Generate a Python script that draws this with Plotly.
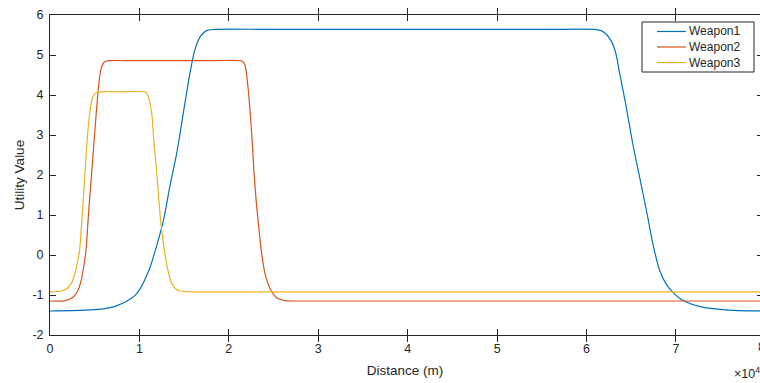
import plotly.graph_objects as go

# ---- data (distance in metres, utility values) ----
d1 = [0, 3900, 6150, 7200, 8000, 8900, 9500, 10100, 10600, 11200, 11900, 12700,
      13400, 14200, 14900, 15650, 16200, 16800, 17500, 18450, 25000, 55000, 60700,
      61400, 61800, 62200, 62600, 63000, 63300, 63700, 64400, 65200, 66000, 66800,
      67400, 68200, 69000, 69700, 70400, 71200, 72700, 74900, 77000, 80000]
u1 = [-1.40, -1.38, -1.34, -1.29, -1.22, -1.11, -1.01, -0.84, -0.62, -0.30, 0.21, 0.88,
      1.71, 2.58, 3.54, 4.54, 5.13, 5.46, 5.61, 5.64, 5.64, 5.64, 5.64,
      5.62, 5.59, 5.52, 5.41, 5.24, 5.02, 4.55, 3.75, 2.75, 1.88, 1.00,
      0.30, -0.40, -0.76, -0.94, -1.08, -1.18, -1.29, -1.36, -1.39, -1.40]

d2 = [0, 1700, 2600, 3100, 3500, 3780, 4000, 4300, 4660, 5000, 5300, 5550, 5800,
      6050, 6300, 6600, 10000, 18000, 21250, 21550, 21800, 22170, 22550, 22900,
      23300, 23670, 24040, 24600, 25350, 26300, 28000, 32000, 80000]
u2 = [-1.15, -1.14, -1.05, -0.90, -0.62, -0.28, 0.05, 1.00, 2.05, 3.05, 3.90, 4.45,
      4.72, 4.82, 4.85, 4.86, 4.86, 4.86, 4.86, 4.84, 4.75, 4.13, 3.04, 1.79,
      0.79, 0.04, -0.46, -0.83, -1.07, -1.14, -1.15, -1.15, -1.15]

d3 = [0, 1300, 2000, 2450, 2800, 3050, 3300, 3600, 3900, 4200, 4500, 4750, 5000,
      5300, 5600, 8000, 10600, 10800, 10990, 11370, 11630, 11960, 12360, 12580,
      12970, 13470, 13980, 14540, 15650, 20000, 80000]
u3 = [-0.92, -0.90, -0.82, -0.68, -0.45, -0.20, 0.10, 1.00, 2.00, 3.00, 3.65, 3.93,
      4.03, 4.07, 4.08, 4.08, 4.08, 4.05, 3.96, 3.55, 2.80, 2.00, 0.88, 0.46,
      -0.13, -0.63, -0.83, -0.90, -0.92, -0.92, -0.92]

names = ["Weapon1", "Weapon2", "Weapon3"]
colors = ["#0072BD", "#D95319", "#EDB120"]

x_ticks = [0, 10000, 20000, 30000, 40000, 50000, 60000, 70000]
x_ticktext = ["0", "1", "2", "3", "4", "5", "6", "7"]
y_ticks = [-2, -1, 0, 1, 2, 3, 4, 5, 6]
y_ticktext = ["-2", "-1", "0", "1", "2", "3", "4", "5", "6"]

XMAX = 79400
FONT = "Liberation Sans, Arial, Helvetica, sans-serif"
INK = "#262626"

fig = go.Figure()
for d, u, n, c in zip([d1, d2, d3], [u1, u2, u3], names, colors):
    fig.add_trace(go.Scatter(x=d, y=u, mode="lines", name=n, showlegend=False,
                             line=dict(color=c, width=1.2, shape="spline",
                                       smoothing=0.8)))
# empty trace so the right-hand tick axis is drawn
fig.add_trace(go.Scatter(x=[], y=[], yaxis="y2", showlegend=False, hoverinfo="skip"))

tickfont = dict(family=FONT, size=12.5, color=INK)

fig.update_layout(
    width=760, height=383,
    margin=dict(l=50, r=0, t=15, b=48),
    paper_bgcolor="white", plot_bgcolor="white",
    font=dict(family=FONT, color=INK),
    xaxis=dict(range=[0, XMAX], tickvals=x_ticks, ticktext=x_ticktext,
               showline=True, linecolor=INK, linewidth=1, mirror="allticks",
               ticks="inside", ticklen=6, tickcolor=INK, tickwidth=1,
               showgrid=False, zeroline=False, tickfont=tickfont,
               title=dict(text="Distance (m)", font=dict(family=FONT, size=13.5, color=INK),
                          standoff=10),
               automargin=False, ticklabelstandoff=2),
    yaxis=dict(range=[-2, 6], tickvals=y_ticks, ticktext=y_ticktext,
               showline=True, linecolor=INK, linewidth=1, mirror=False,
               ticks="inside", ticklen=6, tickcolor=INK, tickwidth=1,
               showgrid=False, zeroline=False, tickfont=tickfont,
               title=dict(text="Utility Value", font=dict(family=FONT, size=13.5, color=INK),
                          standoff=4),
               automargin=False, ticklabelstandoff=3),
    yaxis2=dict(range=[-2, 6], tickvals=y_ticks, overlaying="y", side="right",
                showline=False, ticks="inside", ticklen=3, tickcolor=INK,
                tickwidth=1, showticklabels=False, showgrid=False, zeroline=False),
    showlegend=False,
)

# tick label "8" sits right at the clipped edge, and the x10^4 exponent
fig.add_annotation(x=80000 / XMAX, y=0, xref="paper", yref="paper",
                   text="8", showarrow=False, xanchor="center", yanchor="top",
                   yshift=-3, xshift=-4, font=tickfont)
fig.add_annotation(x=1, y=0, xref="paper", yref="paper",
                   text="×10<sup>4</sup>", showarrow=False, xanchor="right",
                   yanchor="top", yshift=-28, xshift=2, font=tickfont)

# legend box (drawn by hand to match the compact reference legend)
PW, PH = 710.0, 320.0
def px(xp):
    return (xp - 50) / PW
def py(yp):
    return (335 - yp) / PH

fig.add_shape(type="rect", xref="paper", yref="paper",
              x0=px(642), x1=px(754), y0=py(22), y1=py(72),
              line=dict(color=INK, width=1), fillcolor="white", layer="above")
for i, (n, c) in enumerate(zip(names, colors)):
    yy = 31.5 + i * 15.5
    fig.add_shape(type="line", xref="paper", yref="paper",
                  x0=px(657), x1=px(686), y0=py(yy), y1=py(yy),
                  line=dict(color=c, width=1.2), layer="above")
    fig.add_annotation(x=px(687), y=py(yy), xref="paper", yref="paper",
                       text=n, showarrow=False, xanchor="left", yanchor="middle",
                       font=dict(family=FONT, size=12, color=INK))

fig.write_html("out.html")
